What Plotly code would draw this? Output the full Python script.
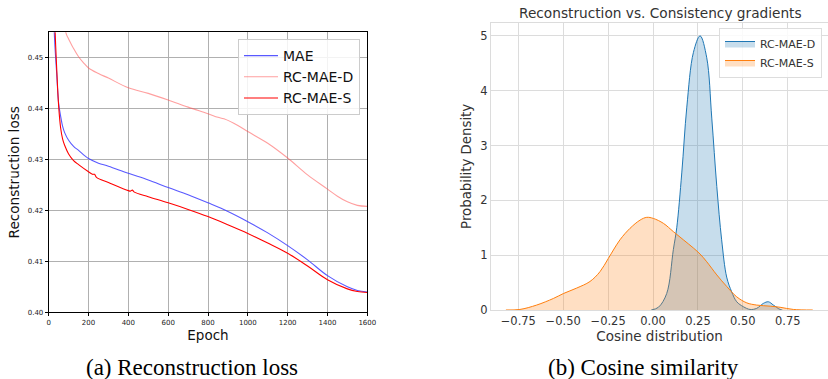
import plotly.graph_objects as go

# ---- (a) Reconstruction loss data ----
mae_epoch = [20, 28, 40, 50, 60, 70, 80, 100, 125, 150, 200, 250, 300, 400, 500, 600, 700, 800, 900, 1000, 1100, 1200, 1300, 1400, 1500, 1550, 1600]
mae_loss = [0.48, 0.455, 0.447, 0.441, 0.4385, 0.4365, 0.4353, 0.4338, 0.4326, 0.4318, 0.4302, 0.4293, 0.4287, 0.4273, 0.4260, 0.4245, 0.4231, 0.4215, 0.4198, 0.4178, 0.4156, 0.4131, 0.4103, 0.4072, 0.4050, 0.4043, 0.4040]

rcd_epoch = [60, 80, 90, 100, 125, 150, 175, 200, 250, 300, 400, 500, 600, 700, 800, 850, 880, 950, 1000, 1100, 1200, 1300, 1400, 1450, 1500, 1550, 1600]
rcd_loss = [0.47, 0.456, 0.4545, 0.4537, 0.4518, 0.4502, 0.4490, 0.4480, 0.4469, 0.4460, 0.4441, 0.4430, 0.4417, 0.4403, 0.4390, 0.4383, 0.4380, 0.4367, 0.4355, 0.4332, 0.4303, 0.4270, 0.4242, 0.4228, 0.4217, 0.4210, 0.4208]

rcs_epoch = [20, 30, 40, 50, 60, 70, 80, 100, 125, 150, 200, 220, 230, 240, 300, 400, 410, 420, 430, 500, 600, 700, 800, 900, 1000, 1100, 1200, 1300, 1400, 1500, 1550, 1600]
rcs_loss = [0.49, 0.458, 0.448, 0.4405, 0.4362, 0.4340, 0.4328, 0.4311, 0.4298, 0.4290, 0.4276, 0.4271, 0.4271, 0.4265, 0.4255, 0.4239, 0.4238, 0.4240, 0.4236, 0.4227, 0.4215, 0.4202, 0.4188, 0.4172, 0.4155, 0.4136, 0.4116, 0.4091, 0.4064, 0.4046, 0.4041, 0.4039]

# ---- (b) Cosine similarity KDE data ----
kde_d_x = [-0.01, 0.03, 0.076, 0.113, 0.132, 0.160, 0.188, 0.225, 0.262, 0.299, 0.327, 0.355, 0.382, 0.410, 0.438, 0.466, 0.503, 0.540, 0.577, 0.614, 0.642, 0.670, 0.707, 0.72]
kde_d_y = [0.0, 0.05, 0.30, 1.10, 1.50, 2.50, 3.70, 4.70, 5.00, 4.60, 3.50, 2.25, 1.28, 0.60, 0.33, 0.15, 0.06, 0.01, 0.03, 0.12, 0.15, 0.09, 0.01, 0.0]

kde_s_x = [-0.819, -0.741, -0.648, -0.555, -0.499, -0.425, -0.351, -0.295, -0.249, -0.184, -0.128, -0.072, -0.035, 0.002, 0.058, 0.113, 0.169, 0.225, 0.262, 0.299, 0.355, 0.410, 0.466, 0.522, 0.577, 0.652, 0.707, 0.781, 0.889]
kde_s_y = [0.0, 0.01, 0.09, 0.21, 0.30, 0.40, 0.52, 0.70, 0.94, 1.28, 1.49, 1.64, 1.69, 1.67, 1.58, 1.43, 1.28, 1.13, 1.02, 0.88, 0.64, 0.43, 0.24, 0.13, 0.09, 0.07, 0.05, 0.01, 0.0]

x_ticks_b = [-0.75, -0.5, -0.25, 0.0, 0.25, 0.5, 0.75]
x_tick_text_b = ["−0.75", "−0.50", "−0.25", "0.00", "0.25", "0.50", "0.75"]

W, H = 828, 379
fig = go.Figure()

fig.add_trace(go.Scatter(x=mae_epoch, y=mae_loss, mode="lines", name="MAE",
                         line=dict(color="rgba(60,60,255,0.85)", width=1.1, shape="spline"),
                         xaxis="x", yaxis="y", legend="legend"))
fig.add_trace(go.Scatter(x=rcd_epoch, y=rcd_loss, mode="lines", name="RC-MAE-D",
                         line=dict(color="rgba(255,80,80,0.55)", width=1.1, shape="spline"),
                         xaxis="x", yaxis="y", legend="legend"))
fig.add_trace(go.Scatter(x=rcs_epoch, y=rcs_loss, mode="lines", name="RC-MAE-S",
                         line=dict(color="rgb(255,0,0)", width=1.1, shape="spline"),
                         xaxis="x", yaxis="y", legend="legend"))

fig.add_trace(go.Scatter(x=kde_d_x, y=kde_d_y, mode="lines", name="RC-MAE-D",
                         line=dict(color="#1f77b4", width=1, shape="spline"),
                         fill="tozeroy", fillcolor="rgba(31,119,180,0.25)",
                         xaxis="x2", yaxis="y2", legend="legend2"))
fig.add_trace(go.Scatter(x=kde_s_x, y=kde_s_y, mode="lines", name="RC-MAE-S",
                         line=dict(color="#ff7f0e", width=1, shape="spline"),
                         fill="tozeroy", fillcolor="rgba(255,127,14,0.25)",
                         xaxis="x2", yaxis="y2", legend="legend2"))

font = "DejaVu Sans"

fig.update_layout(
    width=W, height=H,
    margin=dict(l=0, r=0, t=0, b=0, autoexpand=False),
    paper_bgcolor="white", plot_bgcolor="white",
    font=dict(family=font, color="#222"),
    showlegend=True,
    xaxis=dict(domain=[48.7 / W, 367.3 / W], range=[0, 1600], tickvals=[0, 200, 400, 600, 800, 1000, 1200, 1400, 1600],
               showgrid=True, gridcolor="#b0b0b0", gridwidth=1, zeroline=False, automargin=False,
               showline=True, linecolor="black", linewidth=1, mirror=True,
               ticks="outside", ticklen=3, tickcolor="black", tickfont=dict(size=7, color="#222"),
               title=dict(text="Epoch", font=dict(size=13.5, color="#111"), standoff=2), anchor="y"),
    yaxis=dict(domain=[1 - 312.3 / H, 1 - 32.3 / H], range=[0.40, 0.455],
               tickvals=[0.40, 0.41, 0.42, 0.43, 0.44, 0.45], tickformat=".2f",
               showgrid=True, gridcolor="#b0b0b0", gridwidth=1, zeroline=False, automargin=False,
               showline=True, linecolor="black", linewidth=1, mirror=True,
               ticks="outside", ticklen=3, tickcolor="black", tickfont=dict(size=7, color="#222"),
               title=dict(text="Reconstruction loss", font=dict(size=13.6, color="#111"), standoff=4), anchor="x"),
    xaxis2=dict(domain=[491 / W, 1.0], range=[-0.902, 0.974], tickvals=x_ticks_b, ticktext=x_tick_text_b,
                showgrid=True, gridcolor="#dcdcdc", gridwidth=1.3, zeroline=False, automargin=False,
                showline=True, linecolor="#dcdcdc", linewidth=1, mirror=True,
                ticks="", tickfont=dict(size=11.5, color="#333"),
                title=dict(text="Cosine distribution", font=dict(size=13.5, color="#333"), standoff=1), anchor="y2"),
    yaxis2=dict(domain=[1 - 310 / H, 1 - 22.7 / H], range=[0, 5.24], tickvals=[0, 1, 2, 3, 4, 5],
                showgrid=True, gridcolor="#dcdcdc", gridwidth=1.3, zeroline=False, automargin=False,
                showline=True, linecolor="#dcdcdc", linewidth=1, mirror=True,
                ticks="", tickfont=dict(size=11.5, color="#333"),
                title=dict(text="Probability Density", font=dict(size=13.3, color="#333"), standoff=5), anchor="x2"),
    legend=dict(x=238 / W, y=1 - 39 / H, xanchor="left", yanchor="top",
                bgcolor="rgba(255,255,255,0.85)", bordercolor="#cccccc", borderwidth=1,
                font=dict(size=14, color="#111"), tracegroupgap=0, itemwidth=34),
    legend2=dict(x=1 - 6 / W, y=1 - 28 / H, xanchor="right", yanchor="top",
                 bgcolor="rgba(255,255,255,0.85)", bordercolor="#dddddd", borderwidth=1,
                 font=dict(size=11, color="#333"), tracegroupgap=0, itemwidth=30),
    annotations=[
        dict(text="Reconstruction vs. Consistency gradients", x=660 / W, y=1 - 13 / H,
             xanchor="center", yanchor="middle",
             xref="paper", yref="paper", showarrow=False, font=dict(size=13.7, color="#333")),
        dict(text="(a) Reconstruction loss", x=192 / W, y=1 - 367 / H, xref="paper", yref="paper",
             xanchor="center", yanchor="middle",
             showarrow=False, font=dict(family="Liberation Serif", size=23, color="black")),
        dict(text="(b) Cosine similarity", x=643.5 / W, y=1 - 367 / H, xref="paper", yref="paper",
             xanchor="center", yanchor="middle",
             showarrow=False, font=dict(family="Liberation Serif", size=23, color="black")),
    ],
)

fig.write_html("out.html")
